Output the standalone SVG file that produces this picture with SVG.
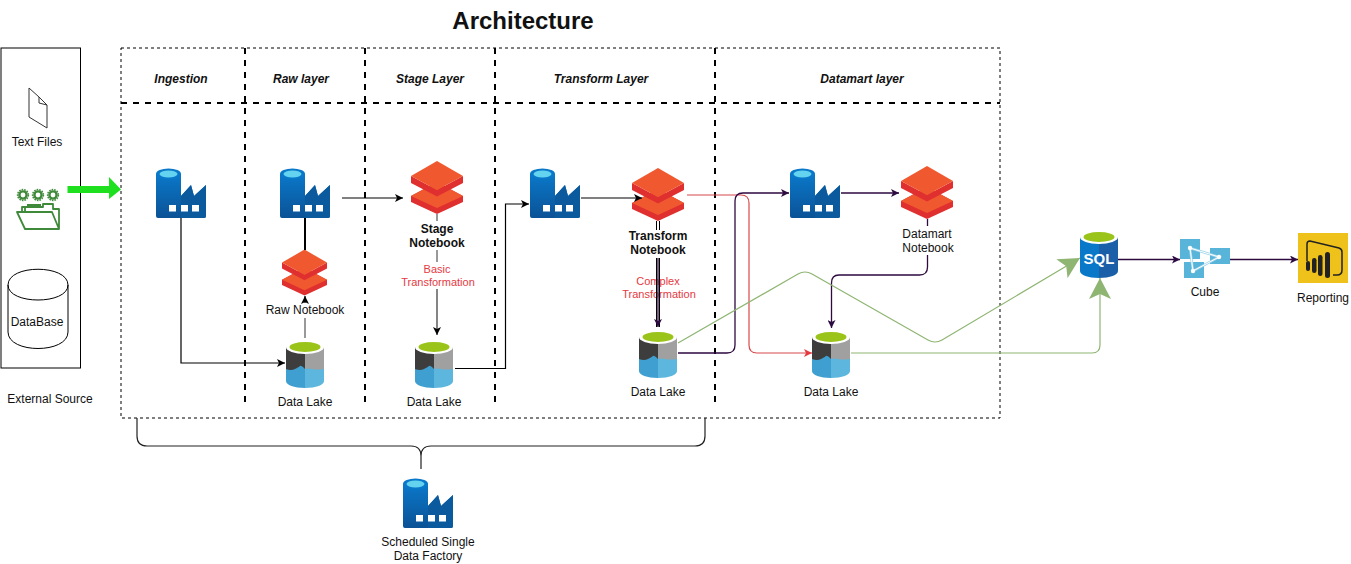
<svg xmlns="http://www.w3.org/2000/svg" width="1351" height="564" viewBox="0 0 1351 564">
<style>
text{font-family:"Liberation Sans",Arial,sans-serif;font-size:12px;fill:#111;text-anchor:middle}
.hd{font-weight:bold;font-style:italic}
.b{font-weight:bold}
.r{fill:#e5393f;font-size:11px}
.c{fill:none;stroke:#000;stroke-width:1.2}
.p{fill:none;stroke:#2d0a3f;stroke-width:1.3}
.g{fill:none;stroke:#8fb573;stroke-width:1.2}
.rd{fill:none;stroke:#d9484c;stroke-width:1.2}
.d1{fill:none;stroke:#000;stroke-width:1;stroke-dasharray:3 3}
.d2{fill:none;stroke:#000;stroke-width:2;stroke-dasharray:6 6}
</style>
<defs>
<linearGradient id="fg" x1="0" y1="0" x2="0" y2="1"><stop offset="0" stop-color="#0a78c9"/><stop offset="1" stop-color="#0b5296"/></linearGradient>
<marker id="ak" markerWidth="9" markerHeight="8" refX="8" refY="4" orient="auto" markerUnits="userSpaceOnUse"><path d="M0 0L8 4L0 8L2 4Z" fill="#000"/></marker>
<marker id="ap" markerWidth="9" markerHeight="8" refX="8" refY="4" orient="auto" markerUnits="userSpaceOnUse"><path d="M0 0L8 4L0 8L2 4Z" fill="#2d0a3f"/></marker>
<marker id="ar" markerWidth="9" markerHeight="8" refX="8" refY="4" orient="auto" markerUnits="userSpaceOnUse"><path d="M0 0L8 4L0 8L2 4Z" fill="#e5393f"/></marker>
<marker id="ag" markerWidth="23" markerHeight="22" refX="21" refY="11" orient="auto" markerUnits="userSpaceOnUse"><path d="M0 0L21 11L0 22L5 11Z" fill="#8fb573"/></marker>
<symbol id="factory" width="50" height="50" viewBox="0 0 50 50" overflow="visible">
<path d="M0 6H25V28L35 17L38 28L50 17V48Q50 50 48 50H2Q0 50 0 48Z" fill="url(#fg)"/>
<path d="M25 28L35 17L38 28L50 17V48Q50 50 48 50H25Z" fill="#0b5a9e"/>
<ellipse cx="12.500" cy="6" rx="12.500" ry="5.500" fill="#0a78c9"/>
<ellipse cx="12.500" cy="6" rx="9" ry="3.500" fill="#63d3f0"/>
<rect x="13" y="37" width="7" height="6.500" fill="#fff"/><rect x="25" y="37" width="7" height="6.500" fill="#fff"/><rect x="36" y="37" width="7" height="6.500" fill="#fff"/>
</symbol>
<symbol id="notebook" width="52" height="53" viewBox="0 0 52 53">
<path d="M0 35L26 21L52 35V41L26 53L0 41Z" fill="#e02f2f"/>
<path d="M0 35L26 21L52 35L26 47Z" fill="#f0592f"/>
<path d="M0 15L26 29L52 15V22L26 35.500L0 22Z" fill="#e02f2f"/>
<path d="M26 0L52 15L26 29L0 15Z" fill="#f0592f"/>
</symbol>
<symbol id="lake" width="38" height="48" viewBox="0 0 38 48">
<path d="M0 7V41C0 45 8 48 19 48V7Z" fill="#3f9fd0"/>
<path d="M38 7V41C38 45 30 48 19 48V7Z" fill="#5cb6dd"/>
<path d="M0 7V29Q5 31 9 29T14 26T19 29V7Z" fill="#3d3d3d"/>
<path d="M38 7V29Q30 30 26 29T19 29V7Z" fill="#a0a0a0"/>
<ellipse cx="19" cy="7" rx="19" ry="7" fill="#fff"/>
<ellipse cx="19" cy="7" rx="15.500" ry="5" fill="#9bc41a"/>
</symbol>
<g id="chip"><circle r="3.600" fill="none" stroke="#3f8a3a" stroke-width="2.400"/><circle r="5.400" fill="none" stroke="#3f8a3a" stroke-width="1.500" stroke-dasharray="1.600 1"/></g>
</defs>

<text x="523" y="29" class="b" style="font-size:24px">Architecture</text>

<g id="frames">
<rect id="external-box" x="1" y="48" width="79.500" height="320" fill="none" stroke="#000" stroke-width="1"/>
<rect x="121" y="48" width="879" height="370" class="d1"/>
<path class="d2" d="M121 103H1000M245 48V404M365 48V404M495 48V404M715 48V404"/>
<text x="181" y="83" class="hd">Ingestion</text>
<text x="301" y="83" class="hd">Raw layer</text>
<text x="430" y="83" class="hd">Stage Layer</text>
<text x="601" y="83" class="hd">Transform Layer</text>
<text x="862" y="83" class="hd">Datamart layer</text>
<text x="50" y="403">External Source</text>
</g>

<g id="text-files">
<path d="M29 88L39 97L47 105V128L29 117Z" fill="#fff" stroke="#333" stroke-width="1" stroke-linejoin="round"/>
<path d="M39 97V103L47 105" fill="none" stroke="#333" stroke-width="1" stroke-linejoin="round"/>
<text x="37" y="146">Text Files</text>
</g>
<g id="folder-source">
<use href="#chip" x="23" y="195"/><use href="#chip" x="38" y="195"/><use href="#chip" x="53" y="195"/>
<path d="M22 211V207H43V204H53V209H59V229M25 229H59L52 212H17ZM25 208V212M27 205H41" fill="none" stroke="#3f8a3a" stroke-width="1.800" stroke-linejoin="round"/>
</g>
<g id="database">
<path d="M8 285C8 264 68 264 68 285V332C68 354 8 354 8 332Z" fill="#fff" stroke="#000" stroke-width="1"/>
<path d="M8 285C8 305 68 305 68 285" fill="none" stroke="#000" stroke-width="1"/>
<text x="37" y="326">DataBase</text>
</g>

<g id="ingestion-factory"><use href="#factory" x="156" y="168"/></g>
<g id="raw-factory"><use href="#factory" x="280" y="168"/></g>
<g id="raw-notebook"><use href="#notebook" x="282" y="249" width="45" height="47"/>
<text x="305" y="314">Raw Notebook</text></g>
<g id="raw-lake"><use href="#lake" x="286" y="340"/><text x="305" y="406">Data Lake</text></g>
<g id="stage-notebook"><use href="#notebook" x="411" y="161"/>
<text x="437" y="233" class="b">Stage</text><text x="437" y="247" class="b">Notebook</text>
<text x="437" y="273" class="r">Basic</text><text x="438" y="286" class="r">Transformation</text></g>
<g id="stage-lake"><use href="#lake" x="415" y="340"/><text x="434" y="406">Data Lake</text></g>
<g id="transform-factory"><use href="#factory" x="530" y="168"/></g>
<g id="transform-notebook"><use href="#notebook" x="632" y="168"/>
<text x="658" y="240" class="b">Transform</text><text x="658" y="254" class="b">Notebook</text>
<text x="658" y="285" class="r">Complex</text><text x="659" y="298" class="r">Transformation</text></g>
<g id="transform-lake"><use href="#lake" x="639" y="330"/><text x="658" y="396">Data Lake</text></g>
<g id="datamart-factory"><use href="#factory" x="790" y="168"/></g>
<g id="datamart-notebook"><use href="#notebook" x="901" y="166"/>
<text x="927" y="238">Datamart</text><text x="928" y="252">Notebook</text></g>
<g id="datamart-lake"><use href="#lake" x="812" y="330"/><text x="831" y="396">Data Lake</text></g>
<g id="sql">
<path d="M1080 237V271C1080 275 1088 278 1099 278V237Z" fill="#0a78c9"/>
<path d="M1118 237V271C1118 275 1110 278 1099 278V237Z" fill="#1a5fa8"/>
<ellipse cx="1099" cy="237" rx="19" ry="7" fill="#fff"/>
<ellipse cx="1099" cy="237" rx="15.500" ry="5" fill="#9bc41a"/>
<text x="1099" y="264" class="b" style="font-size:15px;fill:#fff">SQL</text>
</g>
<g id="cube">
<rect x="1180" y="239" width="20" height="20" fill="#59b4d9"/>
<rect x="1210" y="248" width="20" height="16" fill="#59b4d9"/>
<rect x="1184" y="262" width="20" height="16" fill="#59b4d9"/>
<path d="M1190 248L1219 257L1193 271Z" fill="none" stroke="#9bd3ea" stroke-width="2.400"/>
<path d="M1190 248L1219 257L1193 271Z" fill="none" stroke="#fff" stroke-width="1"/>
<circle cx="1190" cy="248" r="2.200" fill="#fff"/><circle cx="1219" cy="257" r="2.200" fill="#fff"/><circle cx="1193" cy="271" r="2.200" fill="#fff"/>
<text x="1205" y="296">Cube</text>
</g>
<g id="reporting">
<rect x="1298" y="233" width="50" height="50" fill="#eec21a"/>
<path d="M1307 261V244Q1307 241 1310 241L1339 248Q1342 249 1342 252V270Q1342 275 1337 275H1333" fill="none" stroke="#222" stroke-width="1.500"/>
<rect x="1306" y="261" width="4" height="10" rx="2" fill="#222"/>
<rect x="1312" y="258" width="4.500" height="15" rx="2.200" fill="#222"/>
<rect x="1318" y="255" width="4.500" height="21" rx="2.200" fill="#222"/>
<rect x="1325" y="252" width="5" height="26" rx="2.500" fill="#222"/>
<text x="1323" y="302">Reporting</text>
</g>
<g id="scheduled-factory"><use href="#factory" x="403" y="478"/>
<text x="428" y="546">Scheduled Single</text><text x="428" y="560">Data Factory</text></g>

<g id="connectors">
<path d="M67.500 189.500H110" fill="none" stroke="#1fe01f" stroke-width="7"/>
<path d="M109 177L121 189.500L109 199Z" fill="#1fe01f"/>
<path class="c" d="M181 218V363H285" marker-end="url(#ak)"/>
<path d="M305 218V250" fill="none" stroke="#000" stroke-width="2"/>
<path d="M305 338V318" fill="none" stroke="#777" stroke-width="1.500"/>
<path d="M305 303V296" fill="none" stroke="#000" stroke-width="1.200" marker-end="url(#ak)"/>
<path class="c" d="M342 198H403" marker-end="url(#ak)"/>
<path d="M437 214V221M437 250V262" fill="none" stroke="#555" stroke-width="1.200"/>
<path d="M437 289V335" fill="none" stroke="#333" stroke-width="1.200" marker-end="url(#ak)"/>
<path class="c" d="M455 368.500H505.500V204H529" marker-end="url(#ak)"/>
<path class="c" d="M581 198H642" marker-end="url(#ak)"/>
<path d="M656.500 221V230M659.500 221V230M656.500 258V327M659.500 258V327" fill="none" stroke="#000" stroke-width="1"/>
<path class="p" d="M658 258V327" marker-end="url(#ap)" stroke-width="1.500"/>
<path class="rd" d="M687 195H741Q749 195 749 203V345Q749 353 757 353H812" marker-end="url(#ar)"/>
<path class="p" d="M678 353H727Q735 353 735 345V201Q735 193 743 193H789" marker-end="url(#ap)"/>
<path class="p" d="M841 193H899" marker-end="url(#ap)"/>
<path class="p" d="M927.500 219V226M927.500 255V267Q927.500 275 919.500 275H839Q831.500 275 831.500 283V328" marker-end="url(#ap)"/>
<path class="g" d="M678 343L798 274Q805 270 812 274L928 340Q935 344 942 340L1080 258" marker-end="url(#ag)"/>
<path class="g" d="M851 353H1092Q1100 353 1100 345V278" marker-end="url(#ag)"/>
<path class="p" d="M1118 259.500H1180" marker-end="url(#ap)"/>
<path class="p" d="M1230 259.500H1298" marker-end="url(#ap)"/>
<path d="M137 418V436Q137 446 147 446H411Q421 446 421 456V469M421 456Q421 446 431 446H695Q705 446 705 436V418" fill="none" stroke="#222" stroke-width="1.200"/>
</g>
</svg>
